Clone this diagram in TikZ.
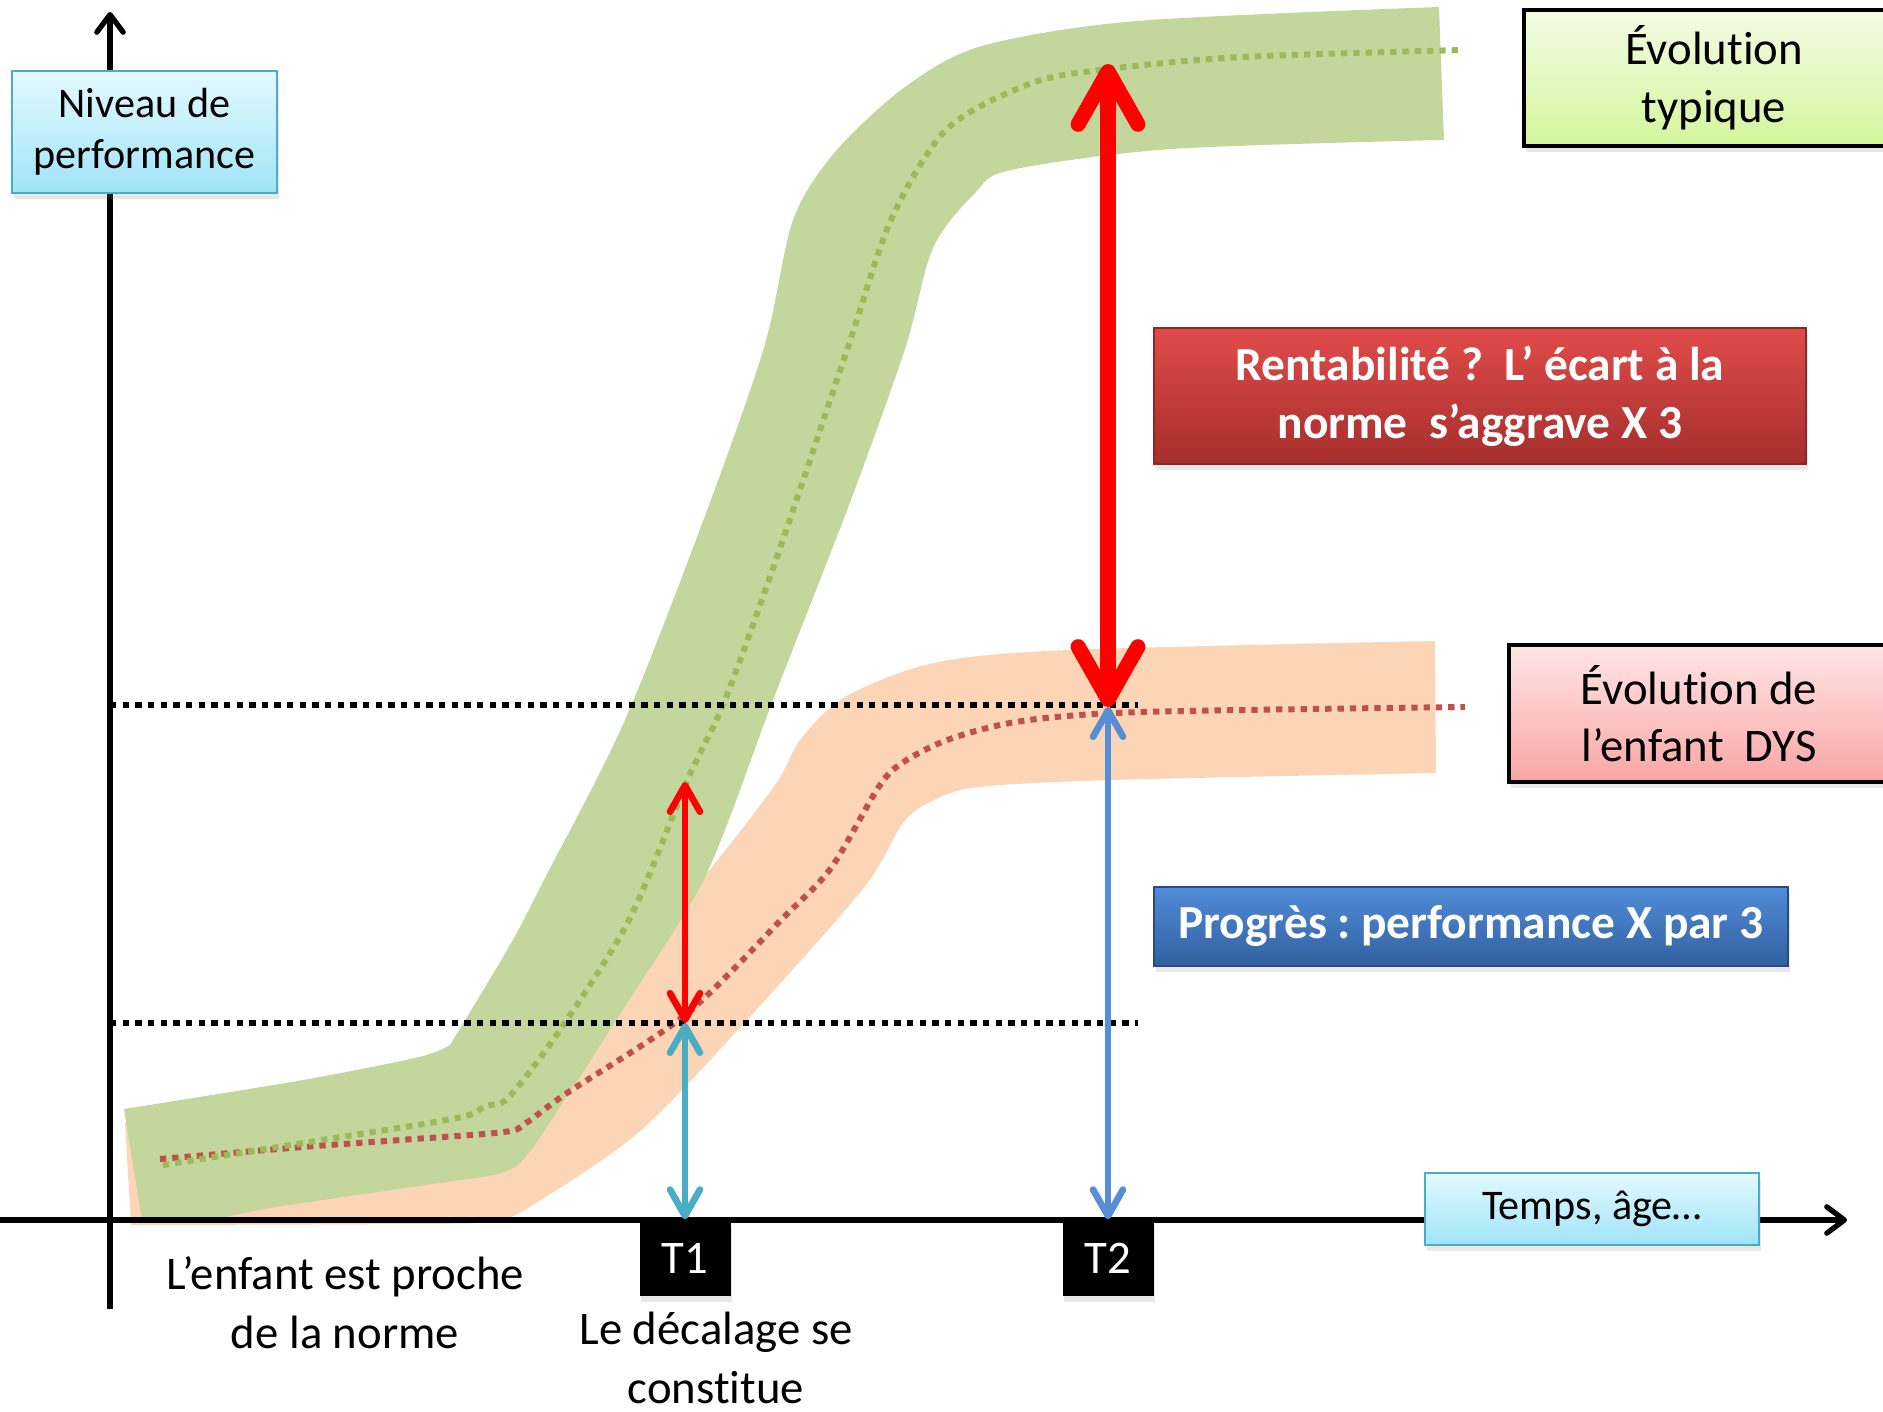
\documentclass[tikz,border=0pt]{standalone}
\usepackage{fontspec}
\setmainfont{Carlito}[RawFeature={-liga;-clig;-calt;-dlig}]
\frenchspacing
\usetikzlibrary{arrows.meta,shadows}
\definecolor{bandgreen}{RGB}{195,214,155}
\definecolor{bandorange}{RGB}{251,213,181}
\definecolor{dotgreen}{RGB}{155,187,89}
\definecolor{dotred}{RGB}{192,80,77}
\definecolor{aquaedge}{RGB}{75,172,198}
\definecolor{aquatop}{RGB}{228,249,254}
\definecolor{aquabottom}{RGB}{160,228,248}
\definecolor{gapcyan}{RGB}{75,172,198}
\definecolor{gapblue}{RGB}{85,142,213}
\definecolor{redtop}{RGB}{224,76,74}
\definecolor{redbottom}{RGB}{165,46,44}
\definecolor{rededge}{RGB}{140,40,38}
\definecolor{bluetop}{RGB}{80,140,216}
\definecolor{bluebottom}{RGB}{50,96,160}
\definecolor{blueedge}{RGB}{40,76,130}
\definecolor{limetop}{RGB}{242,252,228}
\definecolor{limebottom}{RGB}{212,245,156}
\definecolor{pinktop}{RGB}{255,230,230}
\definecolor{pinkbottom}{RGB}{250,165,165}

\tikzset{
  axisline/.style={line width=1.5pt, -{Straight Barb[length=5pt,width=7.5pt,round]}},
  levelline/.style={line width=1.5pt, dash pattern=on 1.8pt off 1.8pt},
  trendline/.style={line width=1.7pt, dash pattern=on 1.8pt off 1.7pt},
  smallgap/.style={line width=1.9pt, {Straight Barb[length=7.5pt,width=8.5pt,round]}-{Straight Barb[length=7.5pt,width=8.5pt,round]}},
  biggap/.style={red, line width=4.3pt, {Straight Barb[length=15pt,width=17pt,round]}-{Straight Barb[length=15pt,width=17pt,round]}},
  softshadow/.style={drop shadow={shadow xshift=0.5pt, shadow yshift=-1.8pt, opacity=0.18}},
  axisbox/.style={draw=aquaedge, line width=0.8pt, top color=aquatop, bottom color=aquabottom, align=center, inner sep=0pt, font=\fontsize{12}{14.6}\selectfont, softshadow},
  legendbox/.style={draw=black, line width=1pt, align=center, inner sep=0pt, font=\fontsize{13.3}{16.4}\selectfont, softshadow},
  notebox/.style={line width=0.8pt, text=white, align=center, inner sep=0pt, font=\bfseries\fontsize{13.5}{16.6}\selectfont, softshadow},
  timebox/.style={fill=black, text=white, minimum width=0.91cm, minimum height=0.76cm, inner sep=0pt, font=\fontsize{13.3}{16}\selectfont, softshadow},
  captiontext/.style={align=center, font=\fontsize{13.3}{16.8}\selectfont}
}

\begin{document}
\begin{tikzpicture}
\useasboundingbox (0,0) rectangle (18.83,14.11);

% bands
\fill [bandorange] plot [smooth] coordinates {(1.25,2.89) (4.20,3.21) (6.00,4.36) (6.87,5.15) (7.73,6.23) (8.00,6.71) (8.45,7.14) (9.34,7.48) (10.68,7.61) (14.35,7.70)}
  -- (14.36,6.38)
  -- plot [smooth] coordinates {(14.36,6.38) (11.12,6.31) (9.79,6.24) (9.34,6.11) (9.03,5.88) (8.62,5.21) (7.35,3.78) (6.39,2.79) (5.44,2.13) (4.96,1.90) (4.00,1.87) (1.31,1.86)}
  -- cycle;
\fill [bandgreen] plot [smooth] coordinates {(1.24,3.02) (3.03,3.31) (4.19,3.54) (4.50,3.66)}
  -- plot [smooth] coordinates {(4.50,3.66) (5.10,4.66) (5.45,5.33) (6.25,6.91) (7.09,9.06) (7.65,10.67) (7.93,11.91) (8.35,12.59) (9.05,13.24) (9.82,13.65) (11.37,13.90) (14.39,14.04)}
  -- (14.44,12.71)
  -- plot [smooth] coordinates {(14.44,12.71) (11.72,12.62) (10.11,12.41) (9.75,12.18) (9.33,11.63) (9.05,10.62) (8.49,9.06) (7.73,7.11) (7.06,5.36) (6.29,4.11) (5.67,3.15) (5.20,2.48) (4.82,2.34)}
  -- plot [smooth] coordinates {(4.82,2.34) (2.76,2.04) (2.14,1.91)}
  -- (1.42,1.91) -- cycle;
%% centre lines
\draw [trendline,dotred] plot [smooth] coordinates {(1.60,2.52) (3.03,2.64) (4.00,2.71) (5.04,2.79) (5.26,2.88) (5.67,3.18) (6.85,3.96) (7.83,4.93) (8.31,5.43) (8.78,6.23) (9.02,6.48) (9.50,6.72) (10.22,6.90) (11.42,6.99) (14.65,7.04)};
\draw [trendline,dotgreen] plot [smooth] coordinates {(1.63,2.46) (3.03,2.68) (4.57,2.93) (4.85,3.05) (5.09,3.14) (5.62,3.84) (6.30,4.93) (6.87,6.30) (7.25,7.11) (7.79,8.60) (8.49,10.67) (8.91,11.91) (9.47,12.82) (10.32,13.28) (11.09,13.42) (12.42,13.54) (14.63,13.61)};

%% levels
\coordinate (lowstart) at (1.10,3.88);
\coordinate (lowend) at (11.38,3.88);
\coordinate (highstart) at (1.10,7.06);
\coordinate (highend) at (11.38,7.06);
\draw [levelline] (lowstart) -- (lowend);
\draw [levelline] (highstart) -- (highend);

%% axes
\coordinate (yfoot) at (1.10,1.02);
\coordinate (ytip) at (1.10,13.99);
\coordinate (xfoot) at (0,1.91);
\coordinate (xtip) at (18.47,1.91);
\draw [axisline] (yfoot) -- (ytip);
\draw [axisline] (xfoot) -- (xtip);

%% time marks
\node [timebox] (t1) at (6.85,1.53) {T1};
\node [timebox] (t2) at (11.08,1.53) {T2};
\node [captiontext] (proche) at (3.45,1.08) {L’enfant est proche\\de la norme};
\node [captiontext] (decalage) at (7.16,0.53) {Le décalage se\\constitue};

%% gaps
\coordinate (t1low) at (6.85,3.88);
\coordinate (t1gap) at (6.85,6.29);
\coordinate (t2mid) at (11.08,7.04);
\coordinate (t2gap) at (11.08,13.47);
\draw [smallgap,gapcyan] (t1.north) -- (t1low);
\draw [smallgap,red] (t1low) -- (t1gap);
\draw [smallgap,gapblue] (t2.north) -- (t2mid);
\draw [biggap] (t2mid) -- (t2gap);

%% labels
\node [axisbox, minimum width=2.65cm, minimum height=1.22cm] (niveau) at (1.445,12.79) {Niveau de\\performance};
\node [axisbox, minimum width=3.34cm, minimum height=0.72cm] (temps) at (15.92,2.02) {Temps, âge…};
\node [legendbox, top color=limetop, bottom color=limebottom, minimum width=3.80cm, minimum height=1.36cm] (typique) at (17.14,13.33) {Évolution\\typique};
\node [legendbox, top color=pinktop, bottom color=pinkbottom, minimum width=3.80cm, minimum height=1.37cm] (dys) at (16.99,6.975) {Évolution de\\l’enfant\ \ DYS};
\node [notebox, draw=rededge, top color=redtop, bottom color=redbottom, minimum width=6.52cm, minimum height=1.36cm] (rentab) at (14.80,10.15) {Rentabilité ?\ \ L’ écart à la\\norme\ \ s’aggrave X 3};
\node [notebox, draw=blueedge, top color=bluetop, bottom color=bluebottom, minimum width=6.34cm, minimum height=0.79cm] (progres) at (14.71,4.845) {Progrès : performance X par 3};

\end{tikzpicture}
\end{document}
